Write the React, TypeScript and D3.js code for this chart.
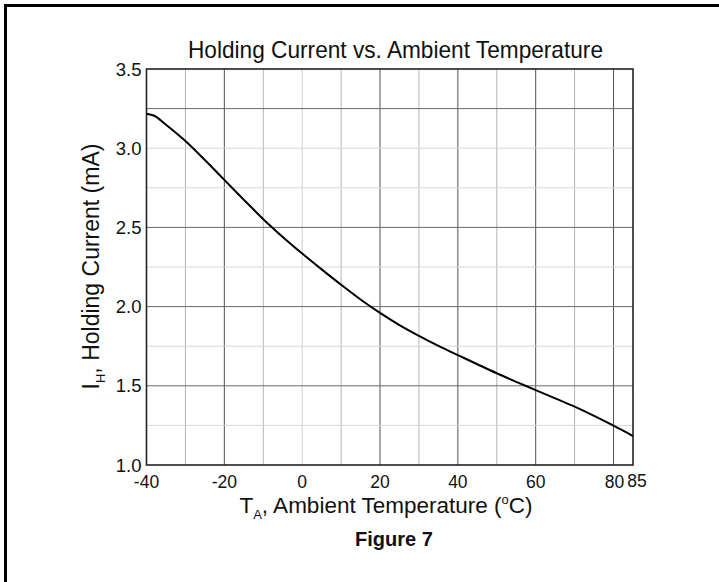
import React from "react";
import * as d3 from "d3";

const temps = [-40, -38, -35, -30, -25, -20, -15, -10, -5, 0, 5, 10, 15, 20, 25, 30, 35, 40, 45, 50, 55, 60, 65, 70, 75, 80, 85];
const current = [3.218, 3.205, 3.148, 3.045, 2.925, 2.8, 2.675, 2.552, 2.44, 2.335, 2.235, 2.138, 2.045, 1.96, 1.883, 1.815, 1.752, 1.694, 1.636, 1.579, 1.525, 1.473, 1.421, 1.368, 1.31, 1.248, 1.183];

const xTicks = [-40, -20, 0, 20, 40, 60, 80, 85];
const yTicks = [1.0, 1.5, 2.0, 2.5, 3.0, 3.5];
const xGrid = [-30, -20, -10, 0, 10, 20, 30, 40, 50, 60, 70, 80];
const yGrid = [1.25, 1.5, 1.75, 2.0, 2.25, 2.5, 2.75, 3.0, 3.25];
const xGridDark = [-20, 20, 40, 60, 80];
const yGridDark = [1.5, 2.0, 2.5, 3.25];

const W = 719;
const H = 582;
const L = 146.5, R = 633, T = 69, B = 465;

export default function App() {
  const x = d3.scaleLinear().domain([-40, 85]).range([L, R]);
  const y = d3.scaleLinear().domain([1.0, 3.5]).range([B, T]);
  const pts = temps.map((t, i) => [t, current[i]] as [number, number]);
  const line = d3
    .line<[number, number]>()
    .x((d) => x(d[0]))
    .y((d) => y(d[1]))
    .curve(d3.curveMonotoneX);

  const font = "'Liberation Sans', Arial, sans-serif";

  return (
    <svg
      width={W}
      height={H}
      style={{ position: "absolute", left: 0, top: 0, background: "#fff" }}
      fontFamily={font}
    >
      <rect x={0} y={0} width={W} height={H} fill="#fff" />
      {/* outer border */}
      <line x1={4} x2={W} y1={5.5} y2={5.5} stroke="#000" strokeWidth={3} />
      <line x1={5.5} x2={5.5} y1={4} y2={H} stroke="#000" strokeWidth={3} />

      {/* grid */}
      {xGrid.map((v) => (
        <line
          key={"xg" + v}
          x1={x(v)}
          x2={x(v)}
          y1={T}
          y2={B}
          stroke={xGridDark.includes(v) ? "#505050" : v === 0 ? "#cfcfcf" : "#b4b4b4"}
          strokeWidth={1}
        />
      ))}
      {yGrid.map((v) => (
        <line
          key={"yg" + v}
          x1={L}
          x2={R}
          y1={y(v)}
          y2={y(v)}
          stroke={yGridDark.includes(v) ? "#6a6a6a" : "#d6d6d6"}
          strokeWidth={1}
        />
      ))}

      {/* frame */}
      <rect x={L} y={T} width={R - L} height={B - T} fill="none" stroke="#222" strokeWidth={1.6} />

      {/* curve */}
      <path d={line(pts) || ""} fill="none" stroke="#000" strokeWidth={2} />

      {/* y ticks */}
      {yTicks.map((v) => (
        <text key={"yt" + v} x={L - 5} y={y(v) + 6.5} textAnchor="end" fontSize={18.5} fill="#111">
          {v.toFixed(1)}
        </text>
      ))}
      {/* x ticks */}
      {xTicks.map((v) => (
        <text
          key={"xt" + v}
          x={v === 85 ? x(v) + 4 : v === 80 ? x(v) + 1 : x(v)}
          y={v === 85 ? 486.5 : 488}
          textAnchor="middle"
          fontSize={17.5}
          fill="#111"
        >
          {v}
        </text>
      ))}

      {/* title */}
      <text x={395.5} y={58} textAnchor="middle" fontSize={24} fill="#111" textLength={415} lengthAdjust="spacingAndGlyphs">
        Holding Current vs. Ambient Temperature
      </text>

      {/* y axis title */}
      <text transform="translate(99,266.5) rotate(-90)" textAnchor="middle" fontSize={23} fill="#111">
        <tspan>I</tspan>
        <tspan fontSize={13} dy={6}>H</tspan>
        <tspan dy={-6}>, Holding Current (mA)</tspan>
      </text>

      {/* x axis title */}
      <text x={386} y={513} textAnchor="middle" fontSize={22.5} fill="#111">
        <tspan>T</tspan>
        <tspan fontSize={13} dy={6}>A</tspan>
        <tspan dy={-6}>, Ambient Temperature (</tspan>
        <tspan fontSize={13} dy={-9}>o</tspan>
        <tspan dy={9}>C)</tspan>
      </text>

      {/* figure caption */}
      <text x={394} y={546} textAnchor="middle" fontSize={20} fontWeight="bold" fill="#111">
        Figure 7
      </text>
    </svg>
  );
}
